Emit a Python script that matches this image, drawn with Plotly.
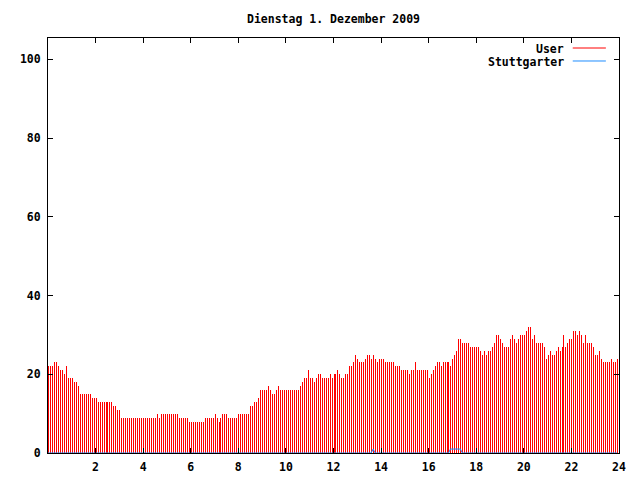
import plotly.graph_objects as go

# time of day in minutes (5-minute samples)
minutes = list(range(0, 1440, 5))
hours = [m / 60 for m in minutes]

# User values, one row per hour (12 samples each)
user = [
    22, 22, 22, 23, 23, 22, 21, 21, 20, 22, 19, 19,
    19, 18, 18, 17, 15, 15, 15, 15, 15, 15, 14, 14,
    14, 13, 13, 13, 13, 13, 13, 13, 13, 12, 12, 11,
    11, 9, 9, 9, 9, 9, 9, 9, 9, 9, 9, 9,
    9, 9, 9, 9, 9, 9, 9, 10, 9, 10, 10, 10,
    10, 10, 10, 10, 10, 10, 9, 9, 9, 9, 9, 8,
    8, 8, 8, 8, 8, 8, 8, 9, 9, 9, 9, 9,
    10, 9, 8, 9, 10, 10, 10, 9, 9, 9, 9, 9,
    10, 10, 10, 10, 10, 10, 12, 12, 13, 13, 14, 16,
    16, 16, 16, 17, 16, 15, 15, 16, 17, 16, 16, 16,
    16, 16, 16, 16, 16, 16, 16, 17, 18, 19, 19, 21,
    19, 19, 18, 19, 20, 20, 19, 19, 19, 19, 20, 19,
    20, 20, 21, 20, 19, 19, 20, 20, 22, 22, 23, 25,
    24, 23, 23, 23, 24, 25, 25, 24, 25, 24, 23, 24,
    24, 24, 23, 23, 23, 23, 23, 22, 22, 22, 21, 21,
    21, 21, 20, 21, 21, 23, 21, 21, 21, 21, 21, 21,
    19, 20, 21, 22, 23, 23, 22, 23, 23, 23, 23, 22,
    24, 25, 26, 29, 29, 28, 28, 28, 28, 27, 27, 27,
    27, 27, 26, 25, 26, 25, 26, 26, 27, 28, 30, 30,
    29, 28, 27, 27, 27, 29, 30, 29, 28, 29, 30, 30,
    30, 31, 32, 32, 29, 30, 28, 28, 28, 28, 27, 24,
    25, 26, 25, 25, 26, 27, 26, 27, 30, 27, 28, 29,
    29, 31, 31, 30, 31, 30, 28, 30, 28, 28, 28, 27,
    25, 25, 26, 24, 23, 23, 23, 23, 24, 23, 23, 24,
]

# Stuttgarter values, one row per hour
stuttgarter = [
    0, 0, 0, 0, 0, 0, 0, 0, 0, 0, 0, 0,
    0, 0, 0, 0, 0, 0, 0, 0, 0, 0, 0, 0,
    0, 0, 0, 0, 0, 0, 0, 0, 0, 0, 0, 0,
    0, 0, 0, 0, 0, 0, 0, 0, 0, 0, 0, 0,
    0, 0, 0, 0, 0, 0, 0, 0, 0, 0, 0, 0,
    0, 0, 0, 0, 0, 0, 0, 0, 0, 0, 0, 0,
    0, 0, 0, 0, 0, 0, 0, 0, 0, 0, 0, 0,
    0, 0, 0, 0, 0, 0, 0, 0, 0, 0, 0, 0,
    0, 0, 0, 0, 0, 0, 0, 0, 0, 0, 0, 0,
    0, 0, 0, 0, 0, 0, 0, 0, 0, 0, 0, 0,
    0, 0, 0, 0, 0, 0, 0, 0, 0, 0, 0, 0,
    0, 0, 0, 0, 0, 0, 0, 0, 0, 0, 0, 0,
    0, 0, 0, 0, 0, 0, 0, 0, 0, 0, 0, 0,
    0, 0, 0, 0, 0, 0, 0, 0, 1, 0, 0, 0,
    0, 0, 0, 0, 0, 0, 0, 0, 0, 0, 0, 0,
    0, 0, 0, 0, 0, 0, 0, 0, 0, 0, 0, 0,
    0, 0, 0, 0, 0, 0, 0, 0, 0, 0, 0, 1,
    1, 1, 1, 1, 1, 0, 0, 0, 0, 0, 0, 0,
    0, 0, 0, 0, 0, 0, 0, 0, 0, 0, 0, 0,
    0, 0, 0, 0, 0, 0, 0, 0, 0, 0, 0, 0,
    0, 0, 0, 0, 0, 0, 0, 0, 0, 0, 0, 0,
    0, 0, 0, 0, 0, 0, 0, 0, 0, 0, 0, 0,
    0, 0, 0, 0, 0, 0, 0, 0, 0, 0, 0, 0,
    0, 0, 0, 0, 0, 0, 0, 0, 0, 0, 0, 0,
]

x_ticks = [2, 4, 6, 8, 10, 12, 14, 16, 18, 20, 22, 24]
y_ticks = [0, 20, 40, 60, 80, 100]
title_text = "Dienstag 1. Dezember 2009"
series_names = ["User", "Stuttgarter"]
RED = "#ff0000"
BLUE = "#1e8cff"

FONT = dict(family="DejaVu Sans Mono", size=11.5, color="black", weight="bold")

# the page body has an 8px margin: size the figure so it fits the window
W, H = 632, 472
PLOT_W, PLOT_H = 571, 415
ML, MT = 40, 30

fig = go.Figure()
# very thin bars: plotly expands them to exactly one device pixel (impulses)
fig.add_trace(go.Bar(
    x=hours, y=user, name=series_names[0],
    width=0.0004, offset=0.5 * 24 / PLOT_W,
    marker=dict(color=RED, line=dict(width=0)),
    showlegend=False,
))
fig.add_trace(go.Scatter(
    x=hours, y=stuttgarter, name=series_names[1], mode="lines",
    line=dict(color=BLUE, width=1), showlegend=False,
))

axis_common = dict(
    showline=True, linecolor="black", linewidth=1, mirror="ticks",
    ticks="inside", ticklen=5, tickcolor="black", tickwidth=1,
    showgrid=False, zeroline=False, tickfont=FONT, automargin=False,
)

fig.update_layout(
    template="none",
    width=W, height=H,
    margin=dict(l=ML, r=W - ML - PLOT_W, t=MT, b=H - MT - PLOT_H, pad=0, autoexpand=False),
    paper_bgcolor="white", plot_bgcolor="white",
    bargap=0, barmode="overlay",
    title=dict(text=title_text, x=0.5, xref="paper", y=1 - 10.5 / H,
               yref="container", xanchor="center", yanchor="middle", font=FONT),
    xaxis=dict(range=[0, 24], tickvals=x_ticks, ticktext=[str(v) for v in x_ticks],
               ticklabelstandoff=3, **axis_common),
    yaxis=dict(range=[0, 105.4], tickvals=y_ticks, ticktext=[str(v) for v in y_ticks],
               ticklabelstandoff=4, **axis_common),
    showlegend=False,
)

# gnuplot-style key: right-aligned labels followed by line samples
for name, col, ytxt, yline in [(series_names[0], RED, 0.9745, 0.9759),
                               (series_names[1], BLUE, 0.9422, 0.9446)]:
    fig.add_annotation(text=name, xref="paper", yref="paper", x=0.905, y=ytxt,
                       xanchor="right", yanchor="middle", showarrow=False,
                       font=FONT, borderpad=0)
    fig.add_shape(type="line", xref="paper", yref="paper", x0=0.919, x1=0.977,
                  y0=yline, y1=yline, line=dict(color=col, width=1))

fig.write_html("out.html")
